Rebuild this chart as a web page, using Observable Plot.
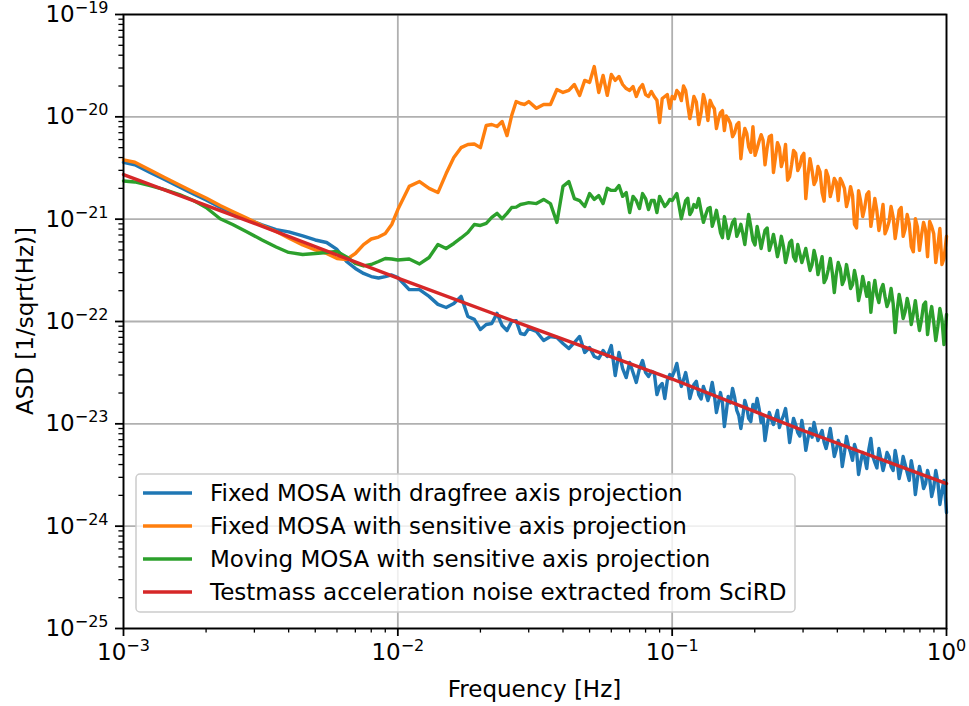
<!DOCTYPE html>
<html><head><meta charset="utf-8">
<script src="https://cdn.jsdelivr.net/npm/d3@7"></script>
<script src="https://cdn.jsdelivr.net/npm/@observablehq/plot@0.6"></script>
<style>body{margin:0;background:#fff}</style>
</head><body><div id="chart"></div>
<script>
// Frequency grid (Hz) shared by the three measured spectra
const freq = [
 0.0010,0.0011,0.00125,0.0014,0.0016,0.0018,0.0020,0.00225,0.0025,0.0028,0.0032,0.0036,0.0040,0.0045,0.0050,0.0055,0.0060,0.0065,0.0070,0.0075,0.0080,0.0085,0.0090,0.0095,
 0.010,0.011,0.012,0.013,0.014,0.015,0.016,0.017,0.018,0.019,0.020,0.021,0.022,0.023,0.024,0.025,0.026,0.027,0.028,0.029,0.030,
 0.032,0.034,0.036,0.038,0.040,0.042,0.044,0.046,0.048,0.050,0.052,0.054,0.056,0.058,0.060,0.062,0.064,0.066,0.068,0.070,0.072,0.074,0.076,0.078,0.080,0.082,0.084,0.086,0.088,0.090,0.092,0.094,0.096,0.098,
 0.100,0.102,0.104,0.106,0.108,0.110,0.112,0.114,0.116,0.118,0.120,0.1225,0.125,0.1275,0.130,0.1325,0.135,0.1375,0.140,0.1425,
 0.145,0.1475,0.150,0.1525,0.155,0.1575,0.160,0.163,0.166,0.169,0.172,0.175,0.178,0.181,0.184,0.187,0.190,0.1935,0.197,0.2005,
 0.204,0.2075,0.211,0.2145,0.218,0.222,0.226,0.230,0.234,0.238,0.242,0.246,0.250,0.2545,0.259,0.2635,0.268,0.2725,0.277,0.282,
 0.287,0.292,0.297,0.302,0.307,0.3125,0.318,0.3235,0.329,0.3345,0.340,0.346,0.352,0.358,0.364,0.3705,0.377,0.3835,0.390,0.3965,
 0.403,0.410,0.417,0.4245,0.432,0.4395,0.447,0.4545,0.462,0.470,0.478,0.4865,0.495,0.5035,0.512,0.521,0.530,0.539,0.548,0.5575,
 0.567,0.577,0.587,0.597,0.607,0.6175,0.628,0.639,0.650,0.661,0.672,0.6835,0.695,0.707,0.719,0.7315,0.744,0.757,0.770,0.7835,
 0.797,0.811,0.825,0.839,0.853,0.868,0.883,0.8985,0.914,0.930,0.946,0.9625,0.979,0.9895,1.000
];
const fixedDragfree = [
 3.6e-21,3.4e-21,2.86e-21,2.47e-21,2.06e-21,1.76e-21,1.54e-21,1.31e-21,1.16e-21,1.01e-21,8.8e-22,7.9e-22,7.5e-22,6.85e-22,6.26e-22,5.92e-22,5.06e-22,3.86e-22,3.3e-22,2.95e-22,2.75e-22,2.66e-22,2.75e-22,2.85e-22,
 2.69e-22,2.05e-22,2.05e-22,1.76e-22,1.47e-22,1.37e-22,1.5e-22,1.76e-22,1.12e-22,1.05e-22,8.35e-23,9.35e-23,9.56e-23,1.2e-22,9.14e-23,8.17e-23,1.0e-22,1.02e-22,7.63e-23,7.46e-23,8.54e-23,
 7.99e-23,6.52e-23,7.14e-23,6.97e-23,6.1e-23,5.45e-23,6.23e-23,7.14e-23,4.98e-23,5.57e-23,4.55e-23,4.35e-23,5.2e-23,4.55e-23,5.83e-23,2.96e-23,4.98e-23,3.47e-23,2.83e-23,3.98e-23,3.17e-23,2.54e-23,3.47e-23,4.16e-23,3.17e-23,2.9e-23,3.25e-23,3.17e-23,1.93e-23,2.32e-23,2.48e-23,1.77e-23,2.65e-23,3.03e-23,
 2.9e-23,3.3e-23,3.89e-23,2.9e-23,2.32e-23,2.7e-23,3.17e-23,2.5e-23,1.77e-23,2.1e-23,
 2.42e-23,2.6e-23,1.93e-23,1.75e-23,2.32e-23,2.0e-23,1.69e-23,2.0e-23,2.54e-23,1.9e-23,
 1.29e-23,1.6e-23,2.02e-23,1.6e-23,9.4e-24,1.3e-23,1.85e-23,1.6e-23,2.22e-23,1.8e-23,
 1.35e-23,1.2e-23,9.0e-24,1.2e-23,1.69e-23,1.45e-23,1.13e-23,1.05e-23,1.55e-23,1.35e-23,
 1.77e-23,1.4e-23,1.03e-23,1.15e-23,6.87e-24,9.5e-24,1.29e-23,1.1e-23,9.85e-24,1.15e-23,
 1.35e-23,9.2e-24,1.08e-23,1.2e-23,1.41e-23,1.0e-23,6.57e-24,8.8e-24,1.13e-23,9.8e-24,
 8.2e-24,7.6e-24,1.08e-23,8.2e-24,5.5e-24,7.2e-24,9.0e-24,7.4e-24,1.03e-23,8.4e-24,
 6.87e-24,7.8e-24,8.6e-24,6.6e-24,5.74e-24,7.0e-24,9.0e-24,6.6e-24,4.79e-24,5.6e-24,
 6.87e-24,6.2e-24,3.83e-24,5.2e-24,7.51e-24,6.0e-24,5.25e-24,4.4e-24,6.28e-24,5.4e-24,
 3.2e-24,4.2e-24,5.25e-24,4.6e-24,3.66e-24,5.6e-24,7.19e-24,4.8e-24,4.19e-24,3.7e-24,
 5.74e-24,4.5e-24,3.5e-24,4.2e-24,5.25e-24,4.8e-24,3.83e-24,3.5e-24,5.5e-24,4.3e-24,
 2.92e-24,3.6e-24,4.79e-24,4.0e-24,3.34e-24,2.8e-24,4.37e-24,3.4e-24,2.04e-24,2.9e-24,
 3.83e-24,3.1e-24,2.33e-24,2.6e-24,3.5e-24,2.9e-24,1.95e-24,2.4e-24,3.5e-24,2.7e-24,
 1.63e-24,2.2e-24,2.8e-24,2.0e-24,1.36e-24
];
const fixedSensitive = [
 3.8e-21,3.6e-21,3.02e-21,2.58e-21,2.16e-21,1.84e-21,1.61e-21,1.36e-21,1.19e-21,1.03e-21,8.68e-22,7.58e-22,6.55e-22,5.6e-22,5.0e-22,4.62e-22,4.13e-22,4.04e-22,4.62e-22,5.65e-22,6.4e-22,6.69e-22,7.25e-22,8.87e-22,
 1.24e-21,2.09e-21,2.33e-21,2.0e-21,1.82e-21,2.79e-21,4.0e-21,5.0e-21,5.37e-21,5.42e-21,5.0e-21,8.22e-21,8.41e-21,8.04e-21,9.0e-21,6.56e-21,1.03e-20,1.41e-20,1.35e-20,1.32e-20,1.41e-20,
 1.21e-20,1.32e-20,1.32e-20,1.85e-20,1.73e-20,1.81e-20,2.07e-20,1.62e-20,2.27e-20,2.17e-20,3.1e-20,1.73e-20,2.54e-20,1.62e-20,2.59e-20,2.27e-20,2.48e-20,2.07e-20,1.89e-20,1.81e-20,1.98e-20,1.58e-20,1.89e-20,2.07e-20,1.65e-20,1.58e-20,1.77e-20,1.58e-20,1.45e-20,8.8e-21,1.51e-20,1.58e-20,1.65e-20,1.21e-20,
 1.58e-20,1.5e-20,1.81e-20,1.7e-20,1.44e-20,2.0e-20,1.81e-20,1.3e-20,9.6e-21,1.2e-20,
 1.58e-20,1.4e-20,8.4e-21,1.1e-20,1.65e-20,1.35e-20,9.2e-21,1.45e-20,1.29e-20,1.2e-20,
 7.7e-21,9.5e-21,1.10e-20,1.15e-20,7.35e-21,1.02e-20,9.6e-21,8.6e-21,6.4e-21,7.0e-21,
 8.4e-21,8.8e-21,3.9e-21,6.0e-21,7.7e-21,6.9e-21,5.1e-21,4.5e-21,8.0e-21,4.2e-21,
 4.9e-21,5.8e-21,6.7e-21,5.9e-21,3.4e-21,5.0e-21,6.4e-21,6.6e-21,2.86e-21,4.0e-21,
 5.6e-21,5.0e-21,3.27e-21,3.9e-21,5.36e-21,2.4e-21,2.6e-21,3.4e-21,4.7e-21,4.4e-21,
 2.99e-21,3.3e-21,4.1e-21,4.4e-21,1.59e-21,2.7e-21,3.9e-21,3.0e-21,2.18e-21,2.4e-21,
 3.27e-21,2.9e-21,1.82e-21,1.5e-21,2.99e-21,2.6e-21,1.66e-21,2.0e-21,2.5e-21,2.3e-21,
 1.52e-21,2.5e-21,2.28e-21,2.0e-21,1.33e-21,1.6e-21,2.08e-21,1.7e-21,8.9e-22,8.2e-22,
 1.9e-21,1.5e-21,1.06e-21,1.3e-21,1.74e-21,1.85e-21,8.5e-22,1.15e-21,1.59e-21,1.2e-21,
 7.76e-22,1.0e-21,1.39e-21,7.2e-22,8.1e-22,9.5e-22,1.33e-21,1.05e-21,6.47e-22,8.8e-22,
 1.22e-21,1.3e-21,6.8e-22,8.0e-22,1.11e-21,9.0e-22,5.4e-22,4.8e-22,1.01e-21,8.4e-22,
 4.95e-22,7.0e-22,9.3e-22,7.8e-22,4.3e-22,9.5e-22,8.5e-22,7.2e-22,3.77e-22,5.5e-22,
 8.1e-22,3.6e-22,4.13e-22,5.2e-22,6.8e-22
];
const movingSensitive = [
 2.36e-21,2.31e-21,2.13e-21,1.95e-21,1.74e-21,1.52e-21,1.30e-21,1.01e-21,8.87e-22,7.58e-22,6.26e-22,5.35e-22,4.73e-22,4.52e-22,4.62e-22,4.73e-22,4.84e-22,4.27e-22,3.69e-22,3.49e-22,3.61e-22,3.86e-22,4.13e-22,4.08e-22,
 3.99e-22,4.08e-22,3.65e-22,4.22e-22,5.65e-22,5.17e-22,5.79e-22,6.55e-22,7.41e-22,8.87e-22,8.68e-22,9.08e-22,1.04e-21,1.14e-21,1.01e-21,1.14e-21,1.30e-21,1.31e-21,1.39e-21,1.42e-21,1.45e-21,
 1.42e-21,1.56e-21,1.42e-21,9.28e-22,2.09e-21,2.33e-21,1.59e-21,1.52e-21,1.33e-21,1.78e-21,1.56e-21,1.70e-21,1.42e-21,2.0e-21,1.91e-21,1.91e-21,2.13e-21,1.67e-21,1.82e-21,1.16e-21,1.67e-21,1.52e-21,1.27e-21,1.78e-21,1.59e-21,1.24e-21,1.52e-21,1.52e-21,1.16e-21,1.67e-21,1.49e-21,1.33e-21,1.42e-21,1.56e-21,
 1.52e-21,1.65e-21,1.78e-21,1.35e-21,1.01e-21,1.25e-21,1.52e-21,1.6e-21,1.11e-21,1.2e-21,
 1.39e-21,1.3e-21,1.59e-21,1.2e-21,9.3e-22,1.1e-21,1.27e-21,1.3e-21,8.5e-22,1.0e-21,
 1.22e-21,9.6e-22,7.4e-22,6.6e-22,1.06e-21,8.6e-22,6.47e-22,7.8e-22,9.3e-22,1.0e-21,
 6.8e-22,7.6e-22,8.9e-22,7.2e-22,5.65e-22,8.0e-22,1.11e-21,8.4e-22,6.2e-22,5.6e-22,
 8.5e-22,6.8e-22,5.17e-22,6.4e-22,7.76e-22,8.2e-22,4.95e-22,5.8e-22,7.1e-22,5.6e-22,
 4.3e-22,5.2e-22,6.8e-22,5.4e-22,3.77e-22,4.6e-22,5.9e-22,6.2e-22,4.3e-22,3.9e-22,
 5.65e-22,4.6e-22,3.77e-22,4.4e-22,5.17e-22,4.0e-22,3.15e-22,3.6e-22,4.95e-22,4.1e-22,
 2.88e-22,3.5e-22,4.3e-22,2.4e-22,2.63e-22,3.2e-22,4.13e-22,3.0e-22,1.92e-22,2.9e-22,
 3.77e-22,3.3e-22,2.3e-22,2.6e-22,3.6e-22,2.8e-22,2.1e-22,2.3e-22,3.15e-22,2.5e-22,
 1.6e-22,2.0e-22,2.75e-22,2.2e-22,1.76e-22,2.4e-22,1.23e-22,1.9e-22,2.52e-22,1.8e-22,
 1.53e-22,2.05e-22,2.3e-22,1.75e-22,1.4e-22,1.6e-22,2.1e-22,1.5e-22,7.8e-23,1.3e-22,
 1.84e-22,1.45e-22,1.07e-22,1.25e-22,1.68e-22,1.35e-22,9.35e-23,1.2e-22,1.6e-22,1.1e-22,
 8.17e-23,1.05e-22,1.46e-22,1.55e-22,7.46e-23,1.1e-22,1.4e-22,9.8e-23,6.52e-23,9.0e-23,
 1.34e-22,1.05e-22,5.95e-23,8.0e-23,1.17e-22
];
// SciRD testmass acceleration noise
const scirdFreq = [0.001,0.003,0.01,0.03,0.1,0.3,1.0];
const scirdASD  = [2.73e-21,9.1e-22,2.65e-22,8.9e-23,2.74e-23,8.6e-24,2.6e-24];

const seriesNames = [
 "Fixed MOSA with dragfree axis projection",
 "Fixed MOSA with sensitive axis projection",
 "Moving MOSA with sensitive axis projection",
 "Testmass acceleration noise extracted from SciRD"
];
const seriesColors = ["#1f77b4","#ff7f0e","#2ca02c","#d62728"];
const xMajorTicks = [1e-3,1e-2,1e-1,1];
const yMajorTicks = [1e-25,1e-24,1e-23,1e-22,1e-21,1e-20,1e-19];
const xLabel = "Frequency [Hz]";
const yLabel = "ASD [1/sqrt(Hz)]";

const rows = (f, v) => f.map((d, i) => ({f: d, v: v[i]}));
const minorOf = (majors) => majors.slice(0, -1).flatMap(t => [2,3,4,5,6,7,8,9].map(k => k * t));
const xMinorTicks = minorOf(xMajorTicks);
const yMinorTicks = minorOf(yMajorTicks);
const expFmt = d => "10^" + Math.round(Math.log10(d));

const W = 969, H = 706;
const lineW = 3.4;
const svgEl = Plot.plot({
  width: W, height: H,
  marginLeft: 123, marginRight: 23, marginTop: 14, marginBottom: 78,
  style: {fontFamily: "'DejaVu Sans', sans-serif", fontSize: "23px", color: "#000", background: "#fff", overflow: "visible"},
  x: {type: "log", domain: [1e-3, 1]},
  y: {type: "log", domain: [1e-25, 1e-19]},
  marks: [
    Plot.gridX(xMajorTicks, {stroke: "#b0b0b0", strokeOpacity: 1, strokeWidth: 1.8}),
    Plot.gridY(yMajorTicks, {stroke: "#b0b0b0", strokeOpacity: 1, strokeWidth: 1.8}),
    Plot.line(rows(freq, fixedDragfree), {x: "f", y: "v", stroke: seriesColors[0], strokeWidth: lineW, strokeLinejoin: "round"}),
    Plot.line(rows(freq, fixedSensitive), {x: "f", y: "v", stroke: seriesColors[1], strokeWidth: lineW, strokeLinejoin: "round"}),
    Plot.line(rows(freq, movingSensitive), {x: "f", y: "v", stroke: seriesColors[2], strokeWidth: lineW, strokeLinejoin: "round"}),
    Plot.line(rows(scirdFreq, scirdASD), {x: "f", y: "v", stroke: seriesColors[3], strokeWidth: lineW, strokeLinejoin: "round"}),
    Plot.frame({stroke: "#000", strokeWidth: 1.8}),
    Plot.axisX({ticks: xMajorTicks, tickSize: 8, tickPadding: 7, tickFormat: expFmt, label: null, strokeWidth: 1.8}),
    Plot.axisX({ticks: xMinorTicks, tickSize: 4.6, tickFormat: () => "", label: null, strokeWidth: 1.3}),
    Plot.axisY({ticks: yMajorTicks, tickSize: 8, tickPadding: 7, tickFormat: expFmt, label: null, strokeWidth: 1.8}),
    Plot.axisY({ticks: yMinorTicks, tickSize: 4.6, tickFormat: () => "", label: null, strokeWidth: 1.3})
  ]
});
document.getElementById("chart").appendChild(svgEl);
const svg = d3.select(svgEl);

// Superscript exponents in tick labels
svg.selectAll("text").each(function() {
  const m = /^10\^(-?\d+)$/.exec(this.textContent.trim());
  if (!m) return;
  const t = d3.select(this);
  t.text(null);
  t.append("tspan").text("10");
  t.append("tspan").attr("font-size", "16px").attr("dy", "-9px").text(m[1].replace("-", "\u2212"));
});

// Axis labels
svg.append("text").attr("x", 534.5).attr("y", 697).attr("text-anchor", "middle")
  .attr("font-size", 23).attr("fill", "#000").text(xLabel);
svg.append("text").attr("transform", "translate(33,321) rotate(-90)").attr("text-anchor", "middle")
  .attr("font-size", 23).attr("fill", "#000").text(yLabel);

// Legend
const lg = svg.append("g").attr("text-anchor", "start");
lg.append("rect").attr("x", 136).attr("y", 474).attr("width", 659).attr("height", 138).attr("rx", 4)
  .attr("fill", "#fff").attr("fill-opacity", 0.8).attr("stroke", "#cccccc").attr("stroke-width", 1.5);
seriesNames.forEach((name, i) => {
  const y = 493 + i * 33;
  lg.append("line").attr("x1", 143).attr("x2", 192).attr("y1", y).attr("y2", y)
    .attr("stroke", seriesColors[i]).attr("stroke-width", lineW);
  lg.append("text").attr("x", 210).attr("y", y + 8).attr("text-anchor", "start")
    .attr("font-size", 23).attr("fill", "#000").text(name);
});
</script>
</body></html>
